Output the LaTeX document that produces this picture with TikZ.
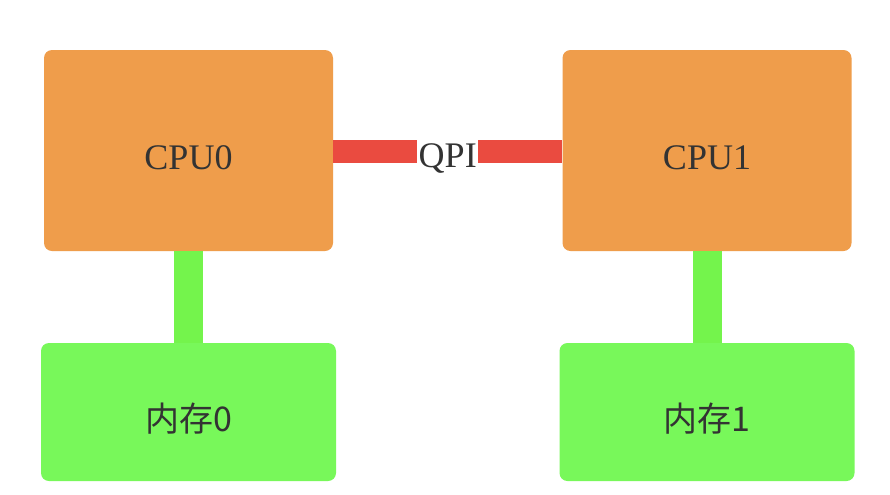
\documentclass[tikz,border=0pt]{standalone}
\usepackage{fontspec}
\setmainfont{Liberation Serif}
\newfontfamily\cjk{Noto Sans CJK SC}
\definecolor{cpuorange}{HTML}{EF9D4B}
\definecolor{memgreen}{HTML}{78F85A}
\definecolor{linkgreen}{HTML}{74F44C}
\definecolor{qpired}{HTML}{EA4B40}
\definecolor{txt}{HTML}{333333}
\begin{document}
\begin{tikzpicture}[x=0.75pt,y=-0.75pt,
  cpubox/.style={fill=cpuorange,rounded corners=6pt,minimum width=216.75pt,minimum height=150.75pt,inner sep=0pt,text=txt,font=\fontsize{27}{30}\selectfont,text height=29pt,text depth=0pt},
  membox/.style={fill=memgreen,rounded corners=6pt,minimum width=221.25pt,minimum height=103.5pt,inner sep=0pt,text=txt,font=\cjk\fontsize{25.5}{29}\selectfont,text height=29pt,text depth=0pt},
  memlink/.style={draw=linkgreen,line width=21.75pt},
  qpilink/.style={draw=qpired,line width=17.25pt},
  qpilabel/.style={fill=white,inner sep=1pt,text=txt,font=\fontsize{27}{30}\selectfont,text height=24pt,text depth=0pt}]
\useasboundingbox[fill=white] (0,0) rectangle (890,494);
\node[cpubox] (cpu0) at (188.5,150.5) {CPU0};
\node[cpubox] (cpu1) at (707,150.5) {CPU1};
\node[membox] (mem0) at (188.5,412) {内存0};
\node[membox] (mem1) at (707,412) {内存1};
\draw[memlink] (cpu0.south) -- (mem0.north);
\draw[memlink] (cpu1.south) -- (mem1.north);
\draw[qpilink] ([yshift=-0.75pt]cpu0.east) -- ([yshift=-0.75pt]cpu1.west)
  node[qpilabel,midway] (qpi) {QPI};
\end{tikzpicture}
\end{document}
